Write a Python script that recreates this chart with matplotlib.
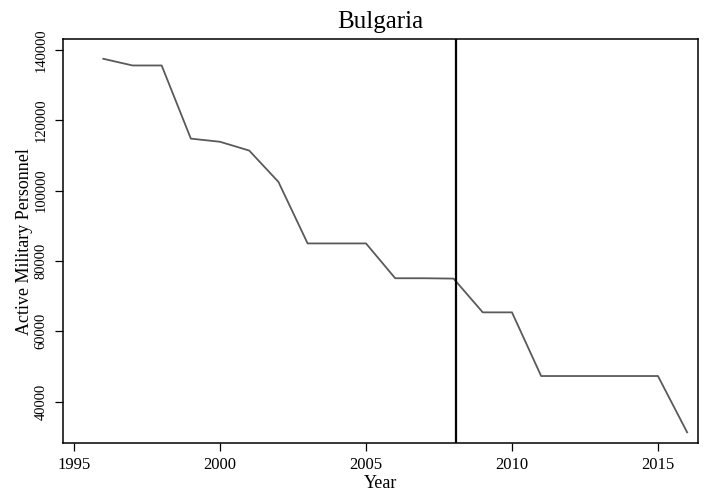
import matplotlib
matplotlib.use("Agg")
import matplotlib.pyplot as plt

years = [1996, 1997, 1998, 1999, 2000, 2001, 2002, 2003, 2004, 2005, 2006,
         2007, 2008, 2009, 2010, 2011, 2012, 2013, 2014, 2015, 2016]
personnel = [137500, 135600, 135600, 114800, 113900, 111400, 102500, 85000,
             85000, 85000, 75100, 75100, 75000, 65400, 65400, 47300, 47300,
             47300, 47300, 47300, 31300]
event_year = 2008.08
xticks = [1995, 2000, 2005, 2010, 2015]
yticks = [40000, 60000, 80000, 100000, 120000, 140000]

plt.rcParams["font.family"] = ["Liberation Serif", "DejaVu Serif"]

fig = plt.figure(figsize=(7.1, 4.93), dpi=100)
ax = fig.add_axes([0.0887, 0.1008, 0.8943, 0.8195])

ax.plot(years, personnel, color="#5a5a5a", linewidth=1.3)
ax.axvline(event_year, color="black", linewidth=1.6)

ax.set_xlim(1994.62, 2016.37)
ax.set_ylim(28170, 143040)
ax.set_xticks(xticks)
ax.set_yticks(yticks)
ax.set_xticklabels([str(x) for x in xticks], fontsize=12)
ax.set_yticklabels([str(y) for y in yticks], fontsize=10.5, rotation=90, va="center")
ax.tick_params(axis="x", length=6, width=0.9, pad=4, colors="black")
ax.tick_params(axis="y", length=6, width=0.9, pad=5, colors="black")
for s in ax.spines.values():
    s.set_linewidth(1.1)

ax.set_title("Bulgaria", fontsize=18, pad=8)
ax.set_xlabel("Year", fontsize=13, labelpad=1.5)
ax.set_ylabel("Active Military Personnel", fontsize=13, labelpad=1)

fig.savefig("out.png", dpi=100)
plt.close(fig)
